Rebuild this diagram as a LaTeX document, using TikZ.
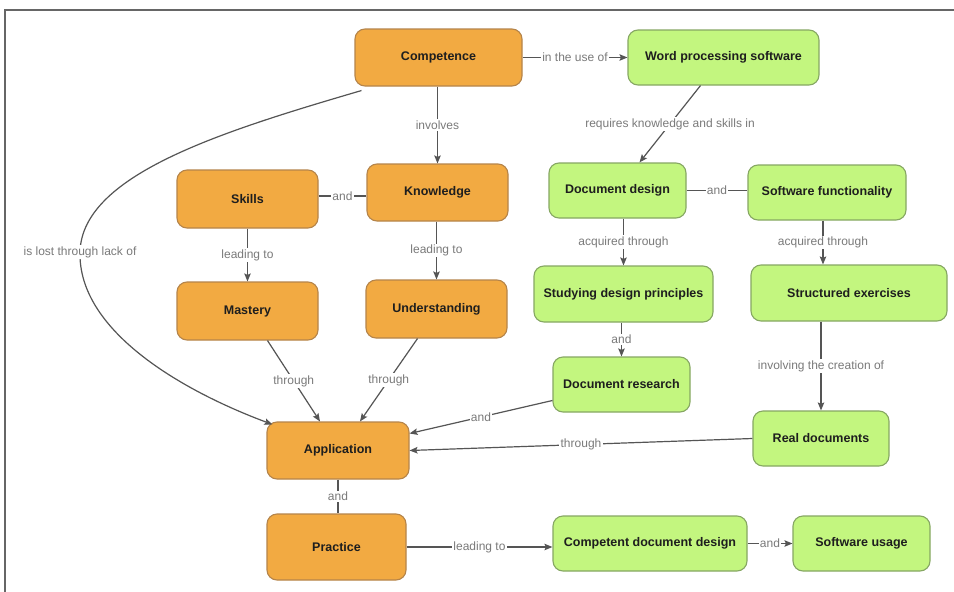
\documentclass[tikz,border=0pt]{standalone}
\usepackage{fontspec}
\setmainfont{Liberation Sans}
\usetikzlibrary{arrows.meta}
\definecolor{ofill}{HTML}{F2AA42}
\definecolor{oline}{HTML}{B5844A}
\definecolor{gfill}{HTML}{C3F67F}
\definecolor{gline}{HTML}{86A763}
\definecolor{edgecol}{HTML}{555555}
\definecolor{lblcol}{HTML}{7A7A7A}
\definecolor{txtcol}{HTML}{1E1E1E}
\definecolor{framecol}{HTML}{666666}
\tikzset{
  box/.style={rounded corners=10pt, line width=1.1pt, align=center, text=txtcol,
    font=\fontsize{12.5}{14}\selectfont\bfseries, inner sep=2pt},
  onode/.style={box, draw=oline, fill=ofill},
  gnode/.style={box, draw=gline, fill=gfill},
  conn/.style={draw=edgecol, line width=1.2pt},
  arr/.style={conn, -{Stealth[length=8pt,width=6.5pt,inset=1.5pt]}},
  lbl/.style={fill=white, text=lblcol, inner sep=1.2pt, font=\fontsize{12}{14}\selectfont},
}
\begin{document}
\begin{tikzpicture}[x=1pt,y=-1pt]
\useasboundingbox (0,0) rectangle (954,592);
\fill[white] (0,0) rectangle (954,592);
\draw[framecol, line width=1.5pt] (5,592) -- (5,10) -- (954,10);

% nodes
\node[onode, minimum width=167pt, minimum height=57pt] (comp) at (438.5,57.5) {Competence};
\node[gnode, minimum width=191pt, minimum height=55pt] (wps) at (723.5,57.5) {Word processing software};
\node[onode, minimum width=141pt, minimum height=58pt] (skills) at (247.5,199) {Skills};
\node[onode, minimum width=141pt, minimum height=57pt] (know) at (437.5,192.5) {Knowledge};
\node[gnode, minimum width=137pt, minimum height=55pt] (ddes) at (617.5,190.5) {Document design};
\node[gnode, minimum width=158pt, minimum height=55pt] (sfun) at (827,192.5) {Software functionality};
\node[onode, minimum width=141pt, minimum height=58pt] (mast) at (247.5,311) {Mastery};
\node[onode, minimum width=141pt, minimum height=58pt] (under) at (436.5,309) {Understanding};
\node[gnode, minimum width=179pt, minimum height=56pt] (stud) at (623.5,294) {Studying design principles};
\node[gnode, minimum width=196pt, minimum height=56pt] (sexe) at (849,293) {Structured exercises};
\node[gnode, minimum width=137pt, minimum height=55pt] (dres) at (621.5,384.5) {Document research};
\node[gnode, minimum width=136pt, minimum height=55pt] (real) at (821,438.5) {Real documents};
\node[onode, minimum width=142pt, minimum height=57pt] (app) at (338,450.5) {Application};
\node[onode, minimum width=139pt, minimum height=66pt] (prac) at (336.5,547) {Practice};
\node[gnode, minimum width=194pt, minimum height=55pt] (cdd) at (650,543.5) {Competent document design};
\node[gnode, minimum width=137pt, minimum height=55pt] (su) at (861.5,543.5) {Software usage};

% connectors
\draw[arr] (comp.east) -- node[lbl] {in the use of} (wps.west);
\draw[arr] (know.north |- comp.south) -- node[lbl] {involves} (know.north);
\draw[arr] ([xshift=-23pt]wps.south) -- node[lbl] {requires knowledge and skills in} ([xshift=22pt]ddes.north);
\draw[conn] ([yshift=3pt]skills.east) -- node[lbl] {and} ([yshift=-3.5pt]know.west);
\draw[arr] (skills.south) -- node[lbl] {leading to} (mast.north);
\draw[arr] (under.north |- know.south) -- node[lbl] {leading to} (under.north);
\draw[conn] (ddes.east) -- node[lbl] {and} (sfun.west |- ddes.east);
\draw[arr] (stud.north |- ddes.south) -- node[lbl] {acquired through} (stud.north);
\draw[arr] ([xshift=-4pt]sfun.south) -- node[lbl] {acquired through} ([xshift=-4pt]sfun.south |- sexe.north);
\draw[arr] (dres.north |- stud.south) -- node[lbl] {and} (dres.north);
\draw[arr] (real.north |- sexe.south) -- node[lbl] {involving the creation of} (real.north);
\draw[arr] ([xshift=20pt]mast.south) -- node[lbl] {through} ([xshift=-18pt]app.north);
\draw[arr] ([xshift=-19pt]under.south) -- node[lbl] {through} ([xshift=22pt]app.north);
\draw[arr] ([yshift=-16pt]dres.west) -- node[lbl] {and} ([yshift=17pt]app.east);
\draw[arr] (real.west) -- node[lbl] {through} (app.east);
\draw[conn] (app.south) -- node[lbl] {and} (app.south |- prac.north);
\draw[arr] (prac.east) -- node[lbl] {leading to} (cdd.west |- prac.east);
\draw[arr] (cdd.east) -- node[lbl] {and} (su.west);
\coordinate (lostpt) at (80,252);
\draw[arr] ([shift={(7pt,-4pt)}]comp.south west) .. controls (220,132) and (82,175) .. (lostpt)
  .. controls (78,330) and (180,390) .. ([shift={(6pt,-3pt)}]app.north west);
\node[lbl] (lost) at (lostpt) {is lost through lack of};
\end{tikzpicture}
\end{document}
